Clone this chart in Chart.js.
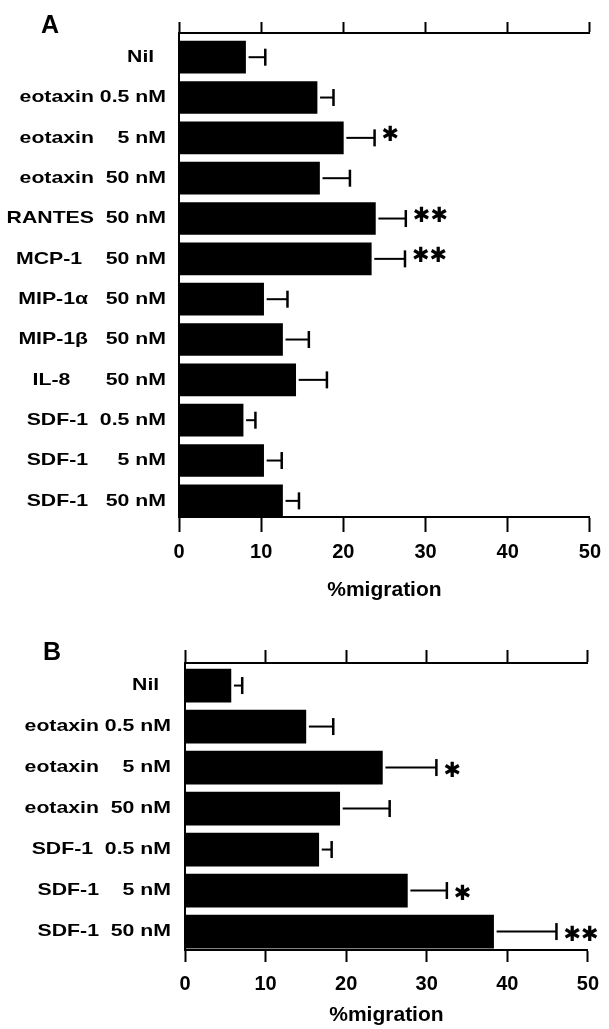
<!DOCTYPE html>
<html>
<head>
<meta charset="utf-8">
<script src="https://cdn.jsdelivr.net/npm/chart.js@4.4.1/dist/chart.umd.min.js"></script>
<style>
  html, body { margin: 0; padding: 0; background: #fff; }
  .panel { position: absolute; left: 0; width: 609px; }
  #boxA { top: 0; height: 605px; }
  #boxB { top: 620px; height: 409px; }
</style>
</head>
<body>
<div class="panel" id="boxA"><canvas id="chartA"></canvas></div>
<div class="panel" id="boxB"><canvas id="chartB"></canvas></div>
<script>
// panel A
const labelsA = ['Nil  ', 'eotaxin 0.5 nM', 'eotaxin    5 nM', 'eotaxin  50 nM', 'RANTES  50 nM',
  'MCP-1    50 nM', 'MIP-1α   50 nM', 'MIP-1β   50 nM', 'IL-8      50 nM',
  'SDF-1  0.5 nM', 'SDF-1     5 nM', 'SDF-1   50 nM'];
const valuesA = [8.1, 16.8, 20.0, 17.1, 23.9, 23.4, 10.3, 12.6, 14.2, 7.8, 10.3, 12.6];
const semA = [2.4, 2.0, 3.8, 3.7, 3.7, 4.1, 2.9, 3.2, 3.8, 1.5, 2.2, 2.0];
const sigA = ['', '', '*', '', '**', '**', '', '', '', '', '', ''];

// panel B
const labelsB = ['Nil  ', 'eotaxin 0.5 nM', 'eotaxin    5 nM', 'eotaxin  50 nM',
  'SDF-1  0.5 nM', 'SDF-1    5 nM', 'SDF-1  50 nM'];
const valuesB = [5.7, 15.0, 24.5, 19.2, 16.6, 27.6, 38.3];
const semB = [1.4, 3.4, 6.7, 6.2, 1.6, 4.9, 7.8];
const sigB = ['', '', '*', '', '', '*', '**'];

const xTicks = [0, 10, 20, 30, 40, 50];
const FONT = '"Liberation Sans", Arial, sans-serif';

// error bars (right side only), significance marks, row labels, panel letter
const marksPlugin = {
  id: 'marks',
  afterDraw(chart, args, opts) {
    const ctx = chart.ctx;
    const xs = chart.scales.x, ys = chart.scales.y;
    ctx.save();
    ctx.strokeStyle = '#000';
    ctx.fillStyle = '#000';
    opts.values.forEach((v, i) => {
      const yc = ys.getPixelForValue(i);
      const x0 = xs.getPixelForValue(v) + 3;
      const x1 = xs.getPixelForValue(v + opts.errors[i]);
      ctx.lineWidth = 2;
      ctx.beginPath(); ctx.moveTo(x0, yc); ctx.lineTo(x1, yc); ctx.stroke();
      ctx.lineWidth = 2.5;
      ctx.beginPath(); ctx.moveTo(x1, yc - 8.5); ctx.lineTo(x1, yc + 8.5); ctx.stroke();

      if (opts.stars[i]) {
        ctx.font = 'bold 21px "DejaVu Sans"';
        ctx.textAlign = 'left';
        ctx.textBaseline = 'middle';
        ctx.fillText(opts.stars[i].replace(/\*/g, '✱'), x1 + 7, yc + opts.starDy);
      }

      ctx.save();
      ctx.font = 'bold 17px ' + FONT;
      ctx.textAlign = 'right';
      ctx.textBaseline = 'middle';
      ctx.translate(opts.labelRight, yc);
      ctx.scale(1.25, 1);
      ctx.fillText(opts.labels[i], 0, 0);
      ctx.restore();
    });
    ctx.font = 'bold 25px ' + FONT;
    ctx.textAlign = 'left';
    ctx.textBaseline = 'alphabetic';
    ctx.fillText(opts.letter, opts.letterX, opts.letterY);
    ctx.restore();
  }
};

function buildChart(id, labels, values, errors, stars, lay) {
  const points = values.map((v, i) => ({ x: v, y: i }));
  const yMax = lay.yMin + labels.length;
  return new Chart(document.getElementById(id), {
    type: 'bar',
    data: {
      labels: labels,
      datasets: [{ data: points, backgroundColor: '#000', borderWidth: 0, barThickness: lay.bar }]
    },
    options: {
      indexAxis: 'y',
      responsive: true,
      maintainAspectRatio: false,
      animation: false,
      layout: { padding: { top: lay.padTop, right: lay.padRight, left: 0, bottom: 0 } },
      scales: {
        x: {
          type: 'linear', position: 'bottom', min: 0, max: 50,
          afterBuildTicks: s => { s.ticks = xTicks.map(v => ({ value: v })); },
          ticks: { color: '#000', padding: lay.tickPad, font: { family: FONT, size: 20, weight: 'bold' } },
          grid: { drawOnChartArea: false, tickLength: lay.tickDown, tickWidth: 2, tickColor: '#000' },
          border: { display: true, color: '#000', width: 2 },
          title: {
            display: true, text: '%migration', color: '#000',
            font: { family: FONT, size: 21, weight: 'bold' },
            padding: { top: 0, bottom: lay.titlePad }
          },
          afterFit: s => { s.height = lay.xHeight; }
        },
        x2: {
          type: 'linear', position: 'top', min: 0, max: 50,
          afterBuildTicks: s => { s.ticks = xTicks.map(v => ({ value: v })); },
          ticks: { display: false },
          grid: { drawOnChartArea: false, tickLength: lay.tickUp, tickWidth: 2, tickColor: '#000' },
          border: { display: true, color: '#000', width: 2 }
        },
        y: {
          type: 'linear', reverse: true, offset: false, bounds: 'data', min: lay.yMin, max: yMax,
          afterBuildTicks: s => { s.min = lay.yMin; s.max = yMax; },
          ticks: { display: false },
          grid: { display: false, offset: false },
          border: { display: true, color: '#000', width: 2 },
          afterFit: s => { s.width = lay.yWidth; }
        }
      },
      plugins: {
        legend: { display: false },
        tooltip: { enabled: false },
        marks: {
          labels: labels, values: values, errors: errors, stars: stars,
          labelRight: lay.labelRight, starDy: lay.starDy,
          letter: lay.letter, letterX: lay.letterX, letterY: lay.letterY
        }
      }
    },
    plugins: [marksPlugin]
  });
}

buildChart('chartA', labelsA, valuesA, semA, sigA, {
  bar: 32, padTop: 22, padRight: 17, tickUp: 11, tickDown: 15, tickPad: 8,
  titlePad: 2, xHeight: 88, yWidth: 179, yMin: -0.6, labelRight: 166, starDy: -2,
  letter: 'A', letterX: 41, letterY: 33
});

buildChart('chartB', labelsB, valuesB, semB, sigB, {
  bar: 33, padTop: 30, padRight: 14, tickUp: 13, tickDown: 12, tickPad: 10,
  titlePad: 1, xHeight: 79, yWidth: 185, yMin: -0.55, labelRight: 171, starDy: 4,
  letter: 'B', letterX: 43, letterY: 40
});
</script>
</body>
</html>
